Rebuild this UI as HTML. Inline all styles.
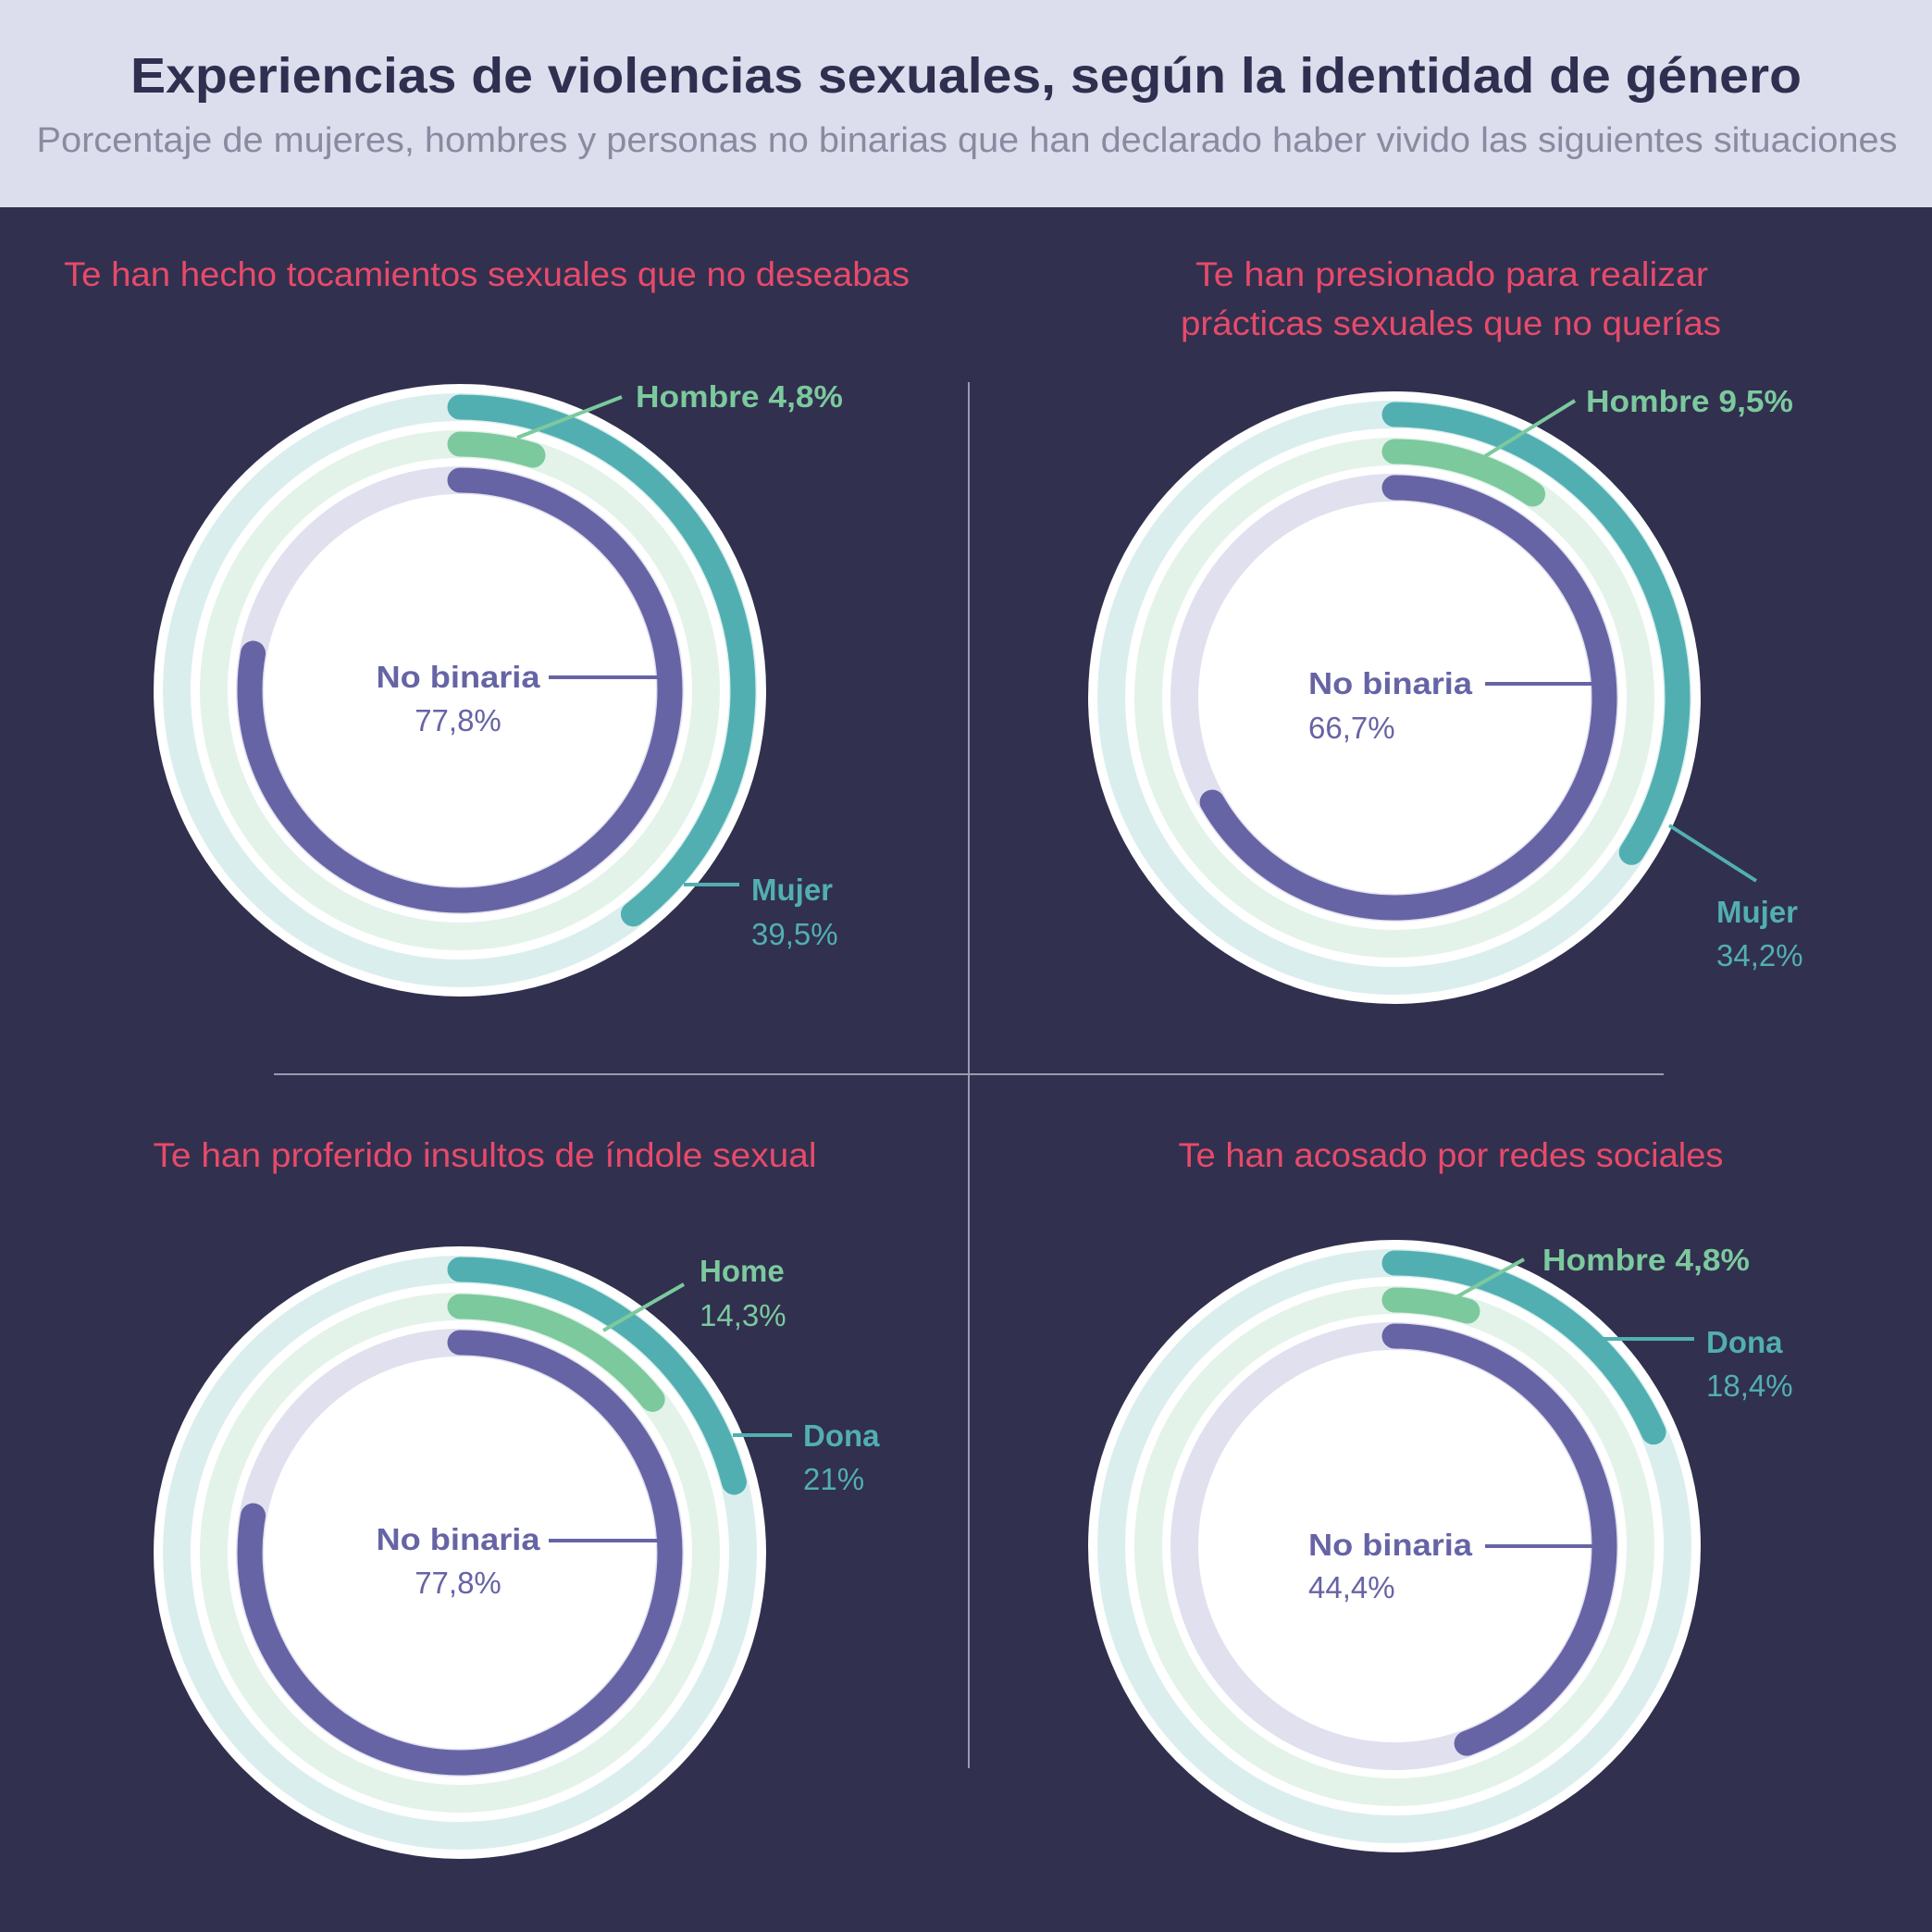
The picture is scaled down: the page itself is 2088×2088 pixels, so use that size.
<!DOCTYPE html>
<html><head><meta charset="utf-8"><style>
html,body{margin:0;padding:0;background:#31304f;}
svg{display:block;font-family:"Liberation Sans","DejaVu Sans",sans-serif;}
</style></head><body>
<svg width="2088" height="2088" viewBox="0 0 2088 2088" xmlns="http://www.w3.org/2000/svg">
<rect x="0" y="0" width="2088" height="2088" fill="#31304f"/>
<rect x="0" y="0" width="2088" height="224" fill="#dcdeed"/>
<text x="1044" y="100" text-anchor="middle" font-size="54" font-weight="bold" fill="#2f3050" textLength="1806" lengthAdjust="spacingAndGlyphs">Experiencias de violencias sexuales, según la identidad de género</text>
<text x="1045" y="164" text-anchor="middle" font-size="38" fill="#8a8aa0" textLength="2011" lengthAdjust="spacingAndGlyphs">Porcentaje de mujeres, hombres y personas no binarias que han declarado haber vivido las siguientes situaciones</text>

<line x1="1047" y1="413" x2="1047" y2="1911" stroke="#9a9ab0" stroke-width="2"/>
<line x1="296" y1="1161" x2="1798" y2="1161" stroke="#9a9ab0" stroke-width="2"/>

<g fill="#e84a6a" font-size="37" text-anchor="middle">
<text x="526" y="309" textLength="914" lengthAdjust="spacingAndGlyphs">Te han hecho tocamientos sexuales que no deseabas</text>
<text x="1569" y="309" textLength="554" lengthAdjust="spacingAndGlyphs">Te han presionado para realizar</text>
<text x="1568" y="362" textLength="584" lengthAdjust="spacingAndGlyphs">prácticas sexuales que no querías</text>
<text x="524" y="1261" textLength="717" lengthAdjust="spacingAndGlyphs">Te han proferido insultos de índole sexual</text>
<text x="1568" y="1261" textLength="589" lengthAdjust="spacingAndGlyphs">Te han acosado por redes sociales</text>
</g>

<defs>
<g id="base">
<circle r="331" fill="#ffffff"/>
<circle r="306" fill="none" stroke="#dbeeee" stroke-width="30"/>
<circle r="266" fill="none" stroke="#e3f3e9" stroke-width="30"/>
<circle r="227" fill="none" stroke="#e1e0ee" stroke-width="30"/>
</g>
</defs>

<!-- Chart 1 -->
<g transform="translate(497,746)">
<use href="#base"/>
<g transform="rotate(-90)" fill="none" stroke-width="27" stroke-linecap="round">
<circle r="306" stroke="#52afb1" stroke-dasharray="759.5 3000"/>
<circle r="266" stroke="#7cc99d" stroke-dasharray="80.2 3000"/>
<circle r="227" stroke="#6664a5" stroke-dasharray="1109.7 3000"/>
</g>
</g>
<!-- Chart 2 -->
<g transform="translate(1507,754)">
<use href="#base"/>
<g transform="rotate(-90)" fill="none" stroke-width="27" stroke-linecap="round">
<circle r="306" stroke="#52afb1" stroke-dasharray="657.6 3000"/>
<circle r="266" stroke="#7cc99d" stroke-dasharray="158.8 3000"/>
<circle r="227" stroke="#6664a5" stroke-dasharray="951.3 3000"/>
</g>
</g>
<!-- Chart 3 -->
<g transform="translate(497,1678)">
<use href="#base"/>
<g transform="rotate(-90)" fill="none" stroke-width="27" stroke-linecap="round">
<circle r="306" stroke="#52afb1" stroke-dasharray="403.8 3000"/>
<circle r="266" stroke="#7cc99d" stroke-dasharray="239 3000"/>
<circle r="227" stroke="#6664a5" stroke-dasharray="1109.7 3000"/>
</g>
</g>
<!-- Chart 4 -->
<g transform="translate(1507,1671)">
<use href="#base"/>
<g transform="rotate(-90)" fill="none" stroke-width="27" stroke-linecap="round">
<circle r="306" stroke="#52afb1" stroke-dasharray="353.8 3000"/>
<circle r="266" stroke="#7cc99d" stroke-dasharray="80.2 3000"/>
<circle r="227" stroke="#6664a5" stroke-dasharray="633.3 3000"/>
</g>
</g>

<!-- Leader lines -->
<g stroke-width="4">
<line x1="559" y1="473" x2="672" y2="429" stroke="#7cc99d"/>
<line x1="739" y1="956" x2="799" y2="956" stroke="#52afb1"/>
<line x1="593" y1="732" x2="712" y2="732" stroke="#6664a5"/>

<line x1="1605" y1="493" x2="1702" y2="433" stroke="#7cc99d"/>
<line x1="1804" y1="892" x2="1898" y2="952" stroke="#52afb1"/>
<line x1="1605" y1="739" x2="1724" y2="739" stroke="#6664a5"/>

<line x1="652" y1="1438" x2="739" y2="1388" stroke="#7cc99d"/>
<line x1="792" y1="1551" x2="856" y2="1551" stroke="#52afb1"/>
<line x1="593" y1="1665" x2="712" y2="1665" stroke="#6664a5"/>

<line x1="1561" y1="1409" x2="1647" y2="1361" stroke="#7cc99d"/>
<line x1="1724" y1="1447" x2="1831" y2="1447" stroke="#52afb1"/>
<line x1="1605" y1="1671" x2="1724" y2="1671" stroke="#6664a5"/>
</g>

<!-- Labels -->
<g font-size="33">
<!-- chart 1 -->
<text x="687" y="440" font-weight="bold" fill="#7cc99d" textLength="224" lengthAdjust="spacingAndGlyphs">Hombre 4,8%</text>
<text x="812" y="973" font-weight="bold" fill="#52afb1">Mujer</text>
<text x="812" y="1021" fill="#52afb1">39,5%</text>
<text x="495" y="743" text-anchor="middle" font-weight="bold" fill="#6664a5" textLength="177" lengthAdjust="spacingAndGlyphs">No binaria</text>
<text x="495" y="790" text-anchor="middle" fill="#6664a5">77,8%</text>
<!-- chart 2 -->
<text x="1714" y="445" font-weight="bold" fill="#7cc99d" textLength="224" lengthAdjust="spacingAndGlyphs">Hombre 9,5%</text>
<text x="1855" y="997" font-weight="bold" fill="#52afb1">Mujer</text>
<text x="1855" y="1044" fill="#52afb1">34,2%</text>
<text x="1414" y="750" font-weight="bold" fill="#6664a5" textLength="177" lengthAdjust="spacingAndGlyphs">No binaria</text>
<text x="1414" y="798" fill="#6664a5">66,7%</text>
<!-- chart 3 -->
<text x="756" y="1385" font-weight="bold" fill="#7cc99d">Home</text>
<text x="756" y="1433" fill="#7cc99d">14,3%</text>
<text x="868" y="1563" font-weight="bold" fill="#52afb1">Dona</text>
<text x="868" y="1610" fill="#52afb1">21%</text>
<text x="495" y="1675" text-anchor="middle" font-weight="bold" fill="#6664a5" textLength="177" lengthAdjust="spacingAndGlyphs">No binaria</text>
<text x="495" y="1722" text-anchor="middle" fill="#6664a5">77,8%</text>
<!-- chart 4 -->
<text x="1667" y="1373" font-weight="bold" fill="#7cc99d" textLength="224" lengthAdjust="spacingAndGlyphs">Hombre 4,8%</text>
<text x="1844" y="1462" font-weight="bold" fill="#52afb1">Dona</text>
<text x="1844" y="1509" fill="#52afb1">18,4%</text>
<text x="1414" y="1681" font-weight="bold" fill="#6664a5" textLength="177" lengthAdjust="spacingAndGlyphs">No binaria</text>
<text x="1414" y="1727" fill="#6664a5">44,4%</text>
</g>
</svg>
</body></html>
